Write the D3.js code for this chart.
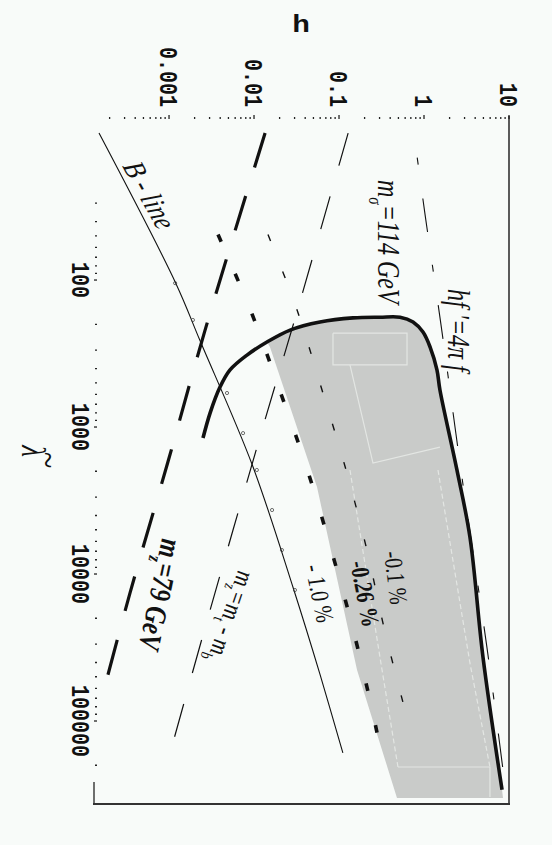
<!DOCTYPE html>
<html>
<head>
<meta charset="utf-8">
<script src="https://cdn.jsdelivr.net/npm/d3@7"></script>
<style>
  html, body { margin: 0; padding: 0; background: #f8fbf9; }
  svg { display: block; }
</style>
</head>
<body>
<svg id="chart" width="552" height="845"></svg>
<script>
// all curves are [lambda~, h] pairs
const bLine = [[10, 1.5e-4], [105, 1.2e-3], [256, 2.3e-3], [1800, 9.5e-3], [12500, 0.029], [48600, 0.06], [165000, 0.111]];
const bMarks = [[105, 1.18e-3], [187, 1.91e-3], [587, 4.81e-3], [1100, 7.43e-3], [1960, 0.0108], [3670, 0.0163], [6870, 0.0213], [12850, 0.0303]];
const mSigma114 = [[10, 0.128], [165, 0.032], [1050, 0.0124], [23300, 0.00265], [165000, 0.00103]];
const mZ79 = [[10, 0.0135], [220, 0.00265], [1730, 0.00097], [13500, 0.000347], [68700, 0.000163]];
const dev026 = [[49, 0.00377], [170, 0.00946], [569, 0.0202], [1930, 0.0421], [6760, 0.0805], [23700, 0.146], [82800, 0.244], [120000, 0.28]];
const dev01 = [[49, 0.0146], [160, 0.0321], [560, 0.0631], [1960, 0.121], [6870, 0.213], [24800, 0.348], [84100, 0.597]];
const hfLine = [[10, 0.76], [36, 1.03], [202, 1.585], [2480, 2.88], [31800, 5.51], [215000, 8.5]];
const boundary = [[1189, 0.00251], [804, 0.00304], [535, 0.00398], [409, 0.00522], [324, 0.00827], [264, 0.0142],
  [219, 0.0266], [193, 0.0597], [181, 0.146], [179, 0.303], [179, 0.522], [193, 0.743], [226, 0.973],
  [286, 1.18], [409, 1.42], [560, 1.54], [1960, 2.44], [5600, 3.47], [36700, 4.94], [294000, 8.28]];
// lower/left edge of the shaded (allowed) region
const shadeEdge = [[334000, 8.5], [334000, 0.481], [45000, 0.163], [2560, 0.0551], [286, 0.0154]];
// faint structure inside the shading
const shadeBox = [[230, 0.0849], [230, 0.631], [378, 0.631], [378, 0.0849], [230, 0.0849]];
const shadeStep = [[378, 0.1346], [1760, 0.251], [1370, 1.54]];
const shadeMid = [[1960, 0.1346], [36700, 0.303], [205600, 0.494]];
const shadeRight = [[1960, 1.46], [40300, 3.47], [205600, 5.97]];
const shadeBottom = [[205600, 0.494], [205600, 5.97], [329000, 5.97]];

const hMajor = [0.001, 0.01, 0.1, 1, 10];
const hLabels = ["0.001", "0.01", "0.1", "1", "10"];
const lamMajor = [100, 1000, 10000, 100000];
const lamLabels = ["100", "1000", "10000", "100000"];

const svg = d3.select("#chart");
const SX = 1.28; // the scan is stretched sideways

const x = d3.scaleLog().domain([1.31e-4, 10]).range([94, 509]);   // h
const y = d3.scaleLog().domain([7.9, 3.67e5]).range([118, 804]);  // lambda~

const curve = d3.line()
  .x(d => x(d[1]))
  .y(d => y(d[0]))
  .curve(d3.curveCatmullRom.alpha(0.5));
const straight = d3.line()
  .x(d => x(d[1]))
  .y(d => y(d[0]));

// page angle -> angle before the sideways stretch
function tf(px, py, deg) {
  const r = deg * Math.PI / 180;
  const a = Math.atan2(Math.sin(r), Math.cos(r) / SX) * 180 / Math.PI;
  return `translate(${px},${py}) scale(${SX},1) rotate(${a})`;
}

// shaded region
const shadePath = curve(boundary.slice(5)) + shadeEdge.map(d => `L${x(d[1])},${y(d[0])}`).join("") + "Z";
svg.append("path").attr("d", shadePath).attr("fill", "#c9cbc9");

[shadeBox, shadeStep, shadeMid, shadeRight, shadeBottom].forEach((pts, i) => {
  svg.append("path")
    .attr("d", straight(pts))
    .attr("fill", "none")
    .attr("stroke", "#e3e6e3")
    .attr("stroke-width", 1.2)
    .attr("stroke-dasharray", i < 2 || i === 4 ? null : "5,3");
});

// frame
svg.append("line").attr("x1", x(10)).attr("x2", x(10)).attr("y1", 116).attr("y2", y(3.67e5))
  .attr("stroke", "#333").attr("stroke-width", 1.6);
svg.append("line").attr("x1", 93).attr("x2", x(10) + 1).attr("y1", y(3.67e5)).attr("y2", y(3.67e5))
  .attr("stroke", "#333").attr("stroke-width", 2);
svg.append("line").attr("x1", 94).attr("x2", 94).attr("y1", 782).attr("y2", y(3.67e5))
  .attr("stroke", "#333").attr("stroke-width", 1.4);

// ticks (top = h, left = lambda~)
const hTicks = x.ticks().filter(t => t >= 2e-4);
svg.append("g").selectAll("line").data(hTicks).join("line")
  .attr("x1", d => x(d)).attr("x2", d => x(d))
  .attr("y1", d => hMajor.includes(d) ? 115 : 117).attr("y2", 119)
  .attr("stroke", "#222").attr("stroke-width", 1.3);
const lamTicks = y.ticks().filter(t => t >= 30 && t <= 2e5);
svg.append("g").selectAll("line").data(lamTicks).join("line")
  .attr("y1", d => y(d)).attr("y2", d => y(d))
  .attr("x1", d => lamMajor.includes(d) ? 94 : 95).attr("x2", 97)
  .attr("stroke", "#222").attr("stroke-width", 1.3);

const mono = "'Courier New', 'Liberation Mono', monospace";
svg.append("g").selectAll("text").data(hMajor).join("text")
  .attr("transform", d => tf(x(d), 107, 90))
  .attr("text-anchor", "end").attr("dy", "0.35em")
  .attr("font-family", mono).attr("font-weight", "bold").attr("font-size", 20)
  .attr("fill", "#111")
  .text((d, i) => hLabels[i]);
svg.append("g").selectAll("text").data(lamMajor).join("text")
  .attr("transform", d => tf(72, y(d), 90))
  .attr("text-anchor", "middle")
  .attr("font-family", mono).attr("font-weight", "bold").attr("font-size", 20)
  .attr("fill", "#111")
  .text((d, i) => lamLabels[i]);

svg.append("text").attr("transform", tf(301, 32, 0)).attr("text-anchor", "middle")
  .attr("font-family", mono).attr("font-weight", "bold").attr("font-size", 23).attr("fill", "#111")
  .text("h");
const serif = "'Liberation Serif', 'Times New Roman', serif";
svg.append("text").attr("transform", tf(22, 451, 90)).attr("text-anchor", "middle")
  .attr("font-family", serif).attr("font-style", "italic").attr("font-size", 27).attr("fill", "#111")
  .text("λ");
svg.append("text").attr("transform", tf(36, 460, 90)).attr("text-anchor", "middle")
  .attr("font-family", serif).attr("font-size", 30).attr("fill", "#111")
  .text("~");

// curves
function draw(pts, width, dash, offset) {
  svg.append("path")
    .attr("d", curve(pts))
    .attr("fill", "none")
    .attr("stroke", "#111")
    .attr("stroke-width", width)
    .attr("stroke-dasharray", dash)
    .attr("stroke-dashoffset", offset || 0);
}
draw(bLine, 1.1, null);
draw(mSigma114, 1.2, "34,32");
draw(mZ79, 3.2, "36,30");
draw(dev026, 3.6, "8,35");
draw(dev01, 1.4, "7,33");
draw(hfLine, 1.1, "7,34,34,33", 83);
draw(boundary, 3.6, null);

svg.append("g").selectAll("circle").data(bMarks).join("circle")
  .attr("cx", d => x(d[1])).attr("cy", d => y(d[0])).attr("r", 1.6)
  .attr("fill", "none").attr("stroke", "#333").attr("stroke-width", 0.7);

// annotations: [text parts, page x, page y, page angle, size, weight, style]
function note(parts, px, py, deg, size, weight, style) {
  const t = svg.append("text")
    .attr("transform", tf(px, py, deg))
    .attr("font-family", serif).attr("font-size", size)
    .attr("font-weight", weight).attr("font-style", style)
    .attr("fill", "#111");
  parts.forEach(p => {
    const s = t.append("tspan").text(p[0]);
    if (p[1] === "sub") s.attr("font-size", size * 0.62).attr("dy", size * 0.28);
    if (p[1] === "up") s.attr("dy", -size * 0.28);
  });
}
note([["B - line"]], 122, 166, 61, 24, "normal", "italic");
note([["m"], ["σ", "sub"], ["=114 GeV", "up"]], 378, 180, 90, 24, "normal", "italic");
note([["hf ′=4π f"]], 448, 289, 90, 24, "normal", "italic");
note([["m"], ["z", "sub"], ["=79 GeV", "up"]], 162, 538, 102, 24, "bold", "italic");
note([["m"], ["z", "sub"], ["=m", "up"], ["t", "sub"], [" - m", "up"], ["b", "sub"]], 238, 570, 109, 21, "normal", "italic");
note([["- 1.0 %"]], 305, 566, 78, 20, "normal", "normal");
note([["-0.26 %"]], 350, 562, 79, 20, "bold", "normal");
note([["-0.1 %"]], 384, 552, 83, 20, "normal", "normal");
</script>
</body>
</html>
